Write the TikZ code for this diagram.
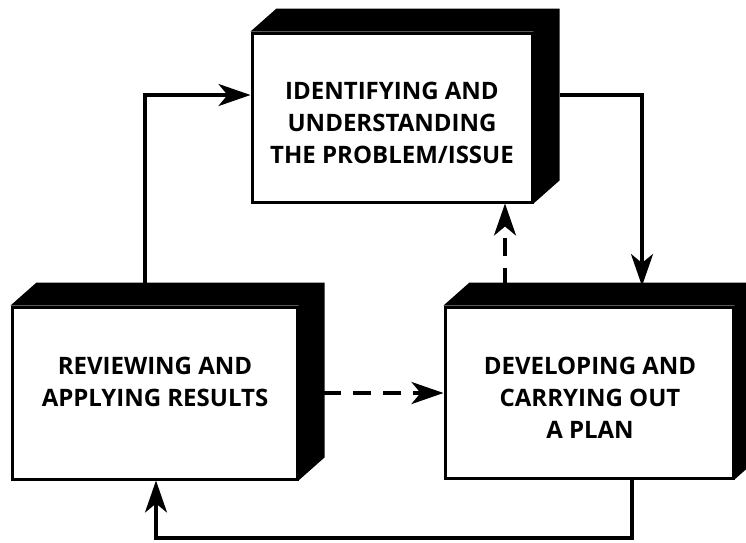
\documentclass[tikz,border=0pt]{standalone}
\usepackage{fontspec}
\setmainfont{Open Sans}
\usetikzlibrary{arrows.meta}
\begin{document}
\begin{tikzpicture}[x=1pt,y=-1pt,
  face/.style={draw=black, line width=3pt, fill=white, inner sep=0pt},
  lbl/.style={font=\fontsize{24}{32}\selectfont\bfseries, align=center, inner sep=0pt},
  conn/.style={line width=3.5pt, -{Stealth[length=32pt,width=22pt,inset=9pt]}},
  dashconn/.style={conn, dash pattern=on 18pt off 12pt},
  shade/.style={fill=black},
]
\clip (0,0) rectangle (746,542);
\fill[white] (0,0) rectangle (746,542);

% boxes (front faces)
\node[face, minimum width=280pt, minimum height=169pt] (top) at (392,117.5) {};
\node[face, minimum width=285pt, minimum height=172pt] (left) at (154.5,393) {};
\node[face, minimum width=288pt, minimum height=171pt] (right) at (589,392.5) {};

% 3D top and side faces
\foreach \b in {top,left,right}{
  \fill[shade] (\b.north west) -- ([shift={(26,-23)}]\b.north west)
    -- ([shift={(26,-23)}]\b.north east) -- ([shift={(26,-23)}]\b.south east)
    -- (\b.south east) -- (\b.north east) -- cycle;
}

% texts
\node[lbl] (t1) at (392,123) {IDENTIFYING AND\\UNDERSTANDING\\THE PROBLEM/ISSUE};
\node[lbl] (t2) at (155,382) {REVIEWING AND\\APPLYING RESULTS};
\node[lbl] (t3) at (590,398) {DEVELOPING AND\\CARRYING OUT\\A PLAN};

% connector end points
\coordinate (c1) at (145,286);
\coordinate (c2) at (642,286);
\coordinate (c3) at (505,286);
\coordinate (c4) at (323,393);
\coordinate (c5) at (632,538);
\coordinate (c6) at (156,538);

\draw[conn] (c1) |- ([shift={(0,-22.5)}]top.west);
\draw[conn] ([shift={(26,-22.5)}]top.east) -| (c2);
\draw[dashconn] (c3) -- (top.south -| c3);
\draw[dashconn] (c4) -- (right.west |- c4);
\draw[conn] (right.south -| c5) -- (c5) -- (c6) -- (left.south -| c6);
\end{tikzpicture}
\end{document}
